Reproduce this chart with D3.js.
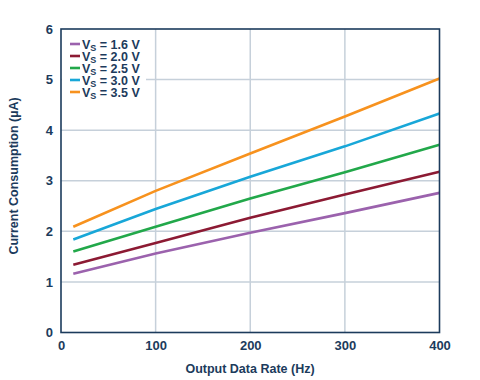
<!DOCTYPE html>
<html><head><meta charset="utf-8">
<script src="https://cdn.jsdelivr.net/npm/d3@7"></script>
<style>body{margin:0;background:#fff}svg{display:block}</style>
</head><body><svg id="c" width="480" height="380"></svg>
<script>
const rates = [13, 100, 200, 300, 400];
const seriesNames = ["1.6 V", "2.0 V", "2.5 V", "3.0 V", "3.5 V"];
const seriesColors = ["#9b62ad", "#8c1a33", "#22a84a", "#18a7d8", "#f7921e"];
const vs16 = [1.16, 1.56, 1.97, 2.36, 2.76];
const vs20 = [1.34, 1.77, 2.27, 2.73, 3.18];
const vs25 = [1.60, 2.09, 2.65, 3.17, 3.71];
const vs30 = [1.84, 2.44, 3.08, 3.68, 4.33];
const vs35 = [2.09, 2.80, 3.54, 4.27, 5.02];
const allSeries = [vs16, vs20, vs25, vs30, vs35];
const xTicks = [0, 100, 200, 300, 400];
const yTicks = [0, 1, 2, 3, 4, 5, 6];

const navy = "#1c3b5c";
const FONT = "Liberation Sans, Arial, sans-serif";
const svg = d3.select("#c");
const L = 61, R = 439.5, T = 29, B = 332.5;
const x = d3.scaleLinear().domain([0, 400]).range([L, R]);
const y = d3.scaleLinear().domain([0, 6]).range([B, T]);

// gridlines
const g = svg.append("g");
g.selectAll(".gx").data(xTicks.slice(1, -1)).join("line")
  .attr("x1", d => x(d)).attr("x2", d => x(d)).attr("y1", T).attr("y2", B)
  .attr("stroke", "#c6d0da").attr("stroke-width", 1.5);
g.selectAll(".gy").data(yTicks.slice(1, -1)).join("line")
  .attr("x1", L).attr("x2", R).attr("y1", d => y(d)).attr("y2", d => y(d))
  .attr("stroke", "#c6d0da").attr("stroke-width", 1.5);

// lines
const line = d3.line().x((d, i) => x(rates[i])).y(d => y(d));
svg.selectAll(".s").data(allSeries).join("path")
  .attr("d", d => line(d)).attr("fill", "none")
  .attr("stroke", (d, i) => seriesColors[i]).attr("stroke-width", 2.6);

// frame
svg.append("rect").attr("x", L).attr("y", T).attr("width", R - L).attr("height", B - T)
  .attr("fill", "none").attr("stroke", navy).attr("stroke-width", 1.6);

// axes labels
const xAxis = d3.axisBottom(x).tickValues(xTicks).tickSize(0).tickPadding(8).tickFormat(d3.format("d"));
const xa = svg.append("g").attr("transform", `translate(0,${B})`).call(xAxis);
xa.select(".domain").remove();
xa.selectAll("text").attr("fill", navy).attr("font-family", FONT)
  .attr("font-weight", "bold").attr("font-size", 13);
const yAxis = d3.axisLeft(y).tickValues(yTicks).tickSize(0).tickPadding(8).tickFormat(d3.format("d"));
const ya = svg.append("g").attr("transform", `translate(${L},0)`).call(yAxis);
ya.select(".domain").remove();
ya.selectAll("text").attr("fill", navy).attr("font-family", FONT)
  .attr("font-weight", "bold").attr("font-size", 13);

svg.append("text").attr("x", 250).attr("y", 373).attr("text-anchor", "middle")
  .attr("fill", navy).attr("font-family", FONT)
  .attr("font-weight", "bold").attr("font-size", 12.5).text("Output Data Rate (Hz)");
svg.append("text").attr("transform", "translate(18,176) rotate(-90)").attr("text-anchor", "middle")
  .attr("fill", navy).attr("font-family", FONT)
  .attr("font-weight", "bold").attr("font-size", 12.5).text("Current Consumption (µA)");

// legend
const lg = svg.append("g");
lg.append("rect").attr("x", L + 1).attr("y", T + 1).attr("width", 84).attr("height", 70).attr("fill", "#fff");
seriesNames.forEach((n, i) => {
  const cy = 44 + i * 12;
  lg.append("line").attr("x1", 70).attr("x2", 80).attr("y1", cy).attr("y2", cy)
    .attr("stroke", seriesColors[i]).attr("stroke-width", 2.6);
  const t = lg.append("text").attr("x", 82).attr("y", cy + 4.5).attr("fill", navy)
    .attr("font-family", FONT).attr("font-weight", "bold").attr("font-size", 12.5);
  t.append("tspan").text("V");
  t.append("tspan").attr("font-size", 9).attr("dy", 2.5).text("S");
  t.append("tspan").attr("dy", -2.5).text(" = " + n);
});
</script></body></html>
